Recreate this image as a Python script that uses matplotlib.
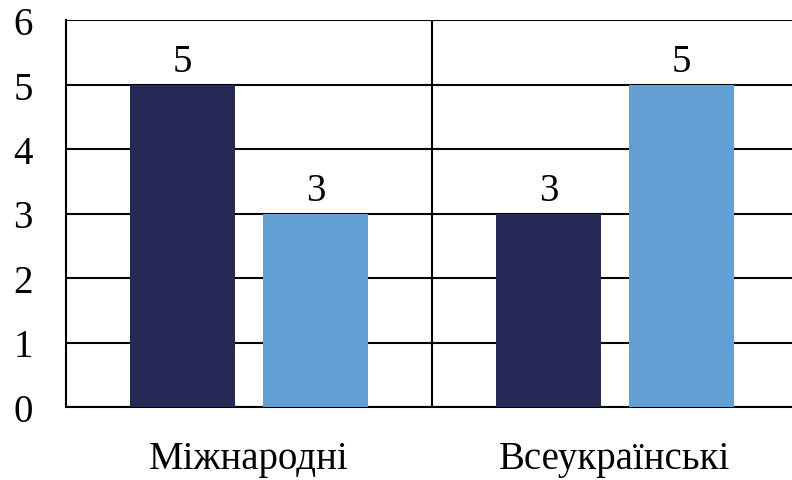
import matplotlib
matplotlib.use("Agg")
import matplotlib.pyplot as plt
import numpy as np

categories = ["Міжнародні", "Всеукраїнські"]
series_a = [5, 3]
series_b = [3, 5]
y_ticks = [0, 1, 2, 3, 4, 5, 6]

DARK = "#262955"
LIGHT = "#629FD2"

plt.rcParams["font.family"] = ["Liberation Serif", "DejaVu Serif"]

fig = plt.figure(figsize=(7.92, 4.81), dpi=100)
ax = fig.add_axes([66 / 792, 73 / 481, 732 / 792, 387 / 481])

x = np.arange(len(categories))
w = 0.286
off = 0.182
bars_a = ax.bar(x - off, series_a, width=w, color=DARK, zorder=3)
bars_b = ax.bar(x + off, series_b, width=w, color=LIGHT, zorder=3)

# value labels above each bar
for bars in (bars_a, bars_b):
    for b in bars:
        ax.text(b.get_x() + b.get_width() / 2, b.get_height() + 0.07,
                f"{b.get_height():g}", ha="center", va="bottom", fontsize=28)

ax.set_xlim(-0.5, 1.5)
ax.set_ylim(0, 6)
ax.set_yticks(y_ticks)
ax.set_xticks(x)
ax.set_xticklabels(categories)
ax.tick_params(axis="both", length=0, labelsize=28)
ax.tick_params(axis="y", pad=24)
ax.tick_params(axis="x", pad=24)

ax.grid(axis="y", color="black", linewidth=1.5, zorder=1)
ax.axvline(0.5, color="black", linewidth=1.5, zorder=1)
for s in ("top", "right"):
    ax.spines[s].set_visible(False)
for s in ("left", "bottom"):
    ax.spines[s].set_color("black")
    ax.spines[s].set_linewidth(1.5)

fig.savefig("out.png", dpi=100, facecolor="white")
